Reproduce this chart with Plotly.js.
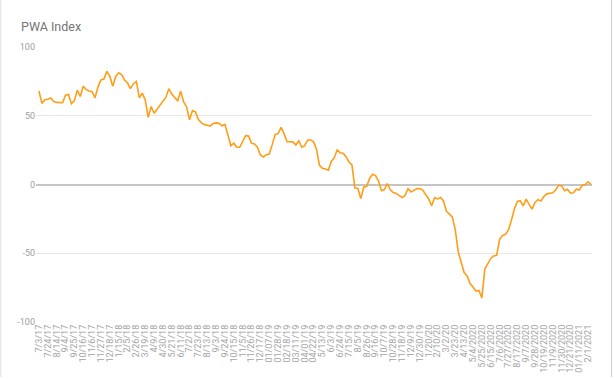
<!DOCTYPE html>
<html>
<head>
<meta charset="utf-8">
<script src="https://cdn.plot.ly/plotly-3.0.1.min.js"></script>
<style>html,body{margin:0;padding:0;background:#fff;}#chart{width:614px;height:379px;}</style>
</head>
<body>
<div id="chart"></div>
<script>
// Weekly observation dates (category axis)
const weeks = [
"2017-07-03","2017-07-10","2017-07-17","2017-07-24","2017-07-31","2017-08-07","2017-08-14","2017-08-21","2017-08-28","2017-09-04",
"2017-09-11","2017-09-18","2017-09-25","2017-10-02","2017-10-09","2017-10-16","2017-10-23","2017-10-30","2017-11-06","2017-11-13",
"2017-11-20","2017-11-27","2017-12-04","2017-12-11","2017-12-18","2017-12-25","2018-01-08","2018-01-15","2018-01-22","2018-01-29",
"2018-02-05","2018-02-12","2018-02-19","2018-02-26","2018-03-05","2018-03-12","2018-03-19","2018-03-26","2018-04-02","2018-04-09",
"2018-04-16","2018-04-23","2018-04-30","2018-05-07","2018-05-14","2018-05-21","2018-05-28","2018-06-04","2018-06-11","2018-06-18",
"2018-06-25","2018-07-02","2018-07-09","2018-07-16","2018-07-23","2018-07-30","2018-08-06","2018-08-13","2018-08-20","2018-08-27",
"2018-09-03","2018-09-10","2018-09-17","2018-09-24","2018-10-01","2018-10-08","2018-10-15","2018-10-22","2018-10-29","2018-11-05",
"2018-11-12","2018-11-19","2018-11-26","2018-12-03","2018-12-10","2018-12-17","2018-12-24","2018-12-31","2019-01-07","2019-01-14",
"2019-01-21","2019-01-28","2019-02-04","2019-02-11","2019-02-18","2019-02-25","2019-03-04","2019-03-11","2019-03-18","2019-03-25",
"2019-04-01","2019-04-08","2019-04-15","2019-04-22","2019-04-29","2019-05-06","2019-05-13","2019-05-20","2019-05-27","2019-06-03",
"2019-06-10","2019-06-17","2019-06-24","2019-07-01","2019-07-08","2019-07-15","2019-07-22","2019-07-29","2019-08-05","2019-08-12",
"2019-08-19","2019-08-26","2019-09-02","2019-09-09","2019-09-16","2019-09-23","2019-09-30","2019-10-07","2019-10-14","2019-10-21",
"2019-10-28","2019-11-04","2019-11-11","2019-11-18","2019-11-25","2019-12-02","2019-12-09","2019-12-16","2019-12-23","2019-12-30",
"2020-01-06","2020-01-13","2020-01-20","2020-01-27","2020-02-03","2020-02-10","2020-02-17","2020-02-24","2020-03-02","2020-03-09",
"2020-03-16","2020-03-23","2020-03-30","2020-04-06","2020-04-13","2020-04-20","2020-04-27","2020-05-04","2020-05-11","2020-05-18",
"2020-05-25","2020-06-01","2020-06-08","2020-06-15","2020-06-22","2020-06-29","2020-07-06","2020-07-13","2020-07-20","2020-07-27",
"2020-08-03","2020-08-10","2020-08-17","2020-08-24","2020-08-31","2020-09-07","2020-09-14","2020-09-21","2020-09-28","2020-10-05",
"2020-10-12","2020-10-19","2020-10-26","2020-11-02","2020-11-09","2020-11-16","2020-11-23","2020-11-30","2020-12-07","2020-12-14",
"2020-12-21","2020-12-28","2021-01-04","2021-01-11","2021-01-18","2021-01-25","2021-02-01","2021-02-08"
];

// PWA Index values
const pwaIndex = [
68,59,61.6,62,63,60.4,59.7,59.5,59.5,65,
65.5,58.7,61,68.5,64,71.4,69,68,67.5,63,
71,76,76.7,82.3,78.6,71.4,78.6,81.3,80,76,
73.8,69.7,73.3,75,63,66.5,61.5,48.8,56.7,51.8,
54.5,57.3,60.3,63.5,69.7,65.8,63.2,61,67.8,60,
56.4,47,53.8,52.8,47.2,45,43.6,42.8,42.5,44.3,
44.8,44.5,42.7,43.7,36.5,28.2,30,27.1,27.1,30.8,
35.5,35.2,30,29.5,27.1,21.5,20,21.7,22.2,29,
36.5,37,41.5,37,31.1,31.1,31,28.8,31.8,27.1,
28.3,32.4,32.4,31,25.5,14,11.8,11.2,10.4,16.8,
19.3,25.2,23.1,22.7,20.2,16.4,14.2,-2.5,-2.7,-10.2,
-2,-1.3,4.6,7.5,6.5,2.5,-4.5,-3.7,0.6,-3.8,
-5.9,-6.5,-8,-9.5,-8,-3,-5.5,-4.5,-3,-3,
-4,-7.5,-10.5,-15.5,-9.5,-10.5,-9.5,-12,-19.5,-21.5,
-23.5,-33,-49,-56.5,-64,-66.5,-72,-74.5,-77.5,-77,
-82.5,-61.5,-58,-53.8,-52,-51.5,-40,-37,-36.3,-33,
-26,-18,-12.3,-11.8,-15.5,-10.6,-14.5,-17.9,-13,-11,
-12,-8.7,-6.8,-6.3,-6,-4,-0.5,-1,-4.5,-3.5,
-6.3,-6,-3.4,-4,-0.5,-0.2,2,0
];

// Dates that carry a tick label, and the label text shown for each
const tickDates = [
"2017-07-03","2017-07-24","2017-08-14","2017-09-04","2017-09-25","2017-10-16","2017-11-06","2017-11-27","2017-12-18","2018-01-15",
"2018-02-05","2018-02-26","2018-03-19","2018-04-09","2018-04-30","2018-05-21","2018-06-11","2018-07-02","2018-07-23","2018-08-13",
"2018-09-03","2018-09-24","2018-10-15","2018-11-05","2018-11-26","2018-12-17","2019-01-07","2019-01-28","2019-02-18","2019-03-11",
"2019-04-01","2019-04-22","2019-05-13","2019-06-03","2019-06-24","2019-07-15","2019-08-05","2019-08-26","2019-09-16","2019-10-07",
"2019-10-28","2019-11-18","2019-12-09","2019-12-30","2020-01-20","2020-02-10","2020-03-02","2020-03-23","2020-04-13","2020-05-04",
"2020-05-25","2020-06-15","2020-07-06","2020-07-27","2020-08-17","2020-09-07","2020-09-28","2020-10-19","2020-11-09","2020-11-30",
"2020-12-21","2021-01-11","2021-02-01"
];
const tickLabels = [
"7/3/17","7/24/17","8/14/17","9/4/17","9/25/17","10/16/17","11/6/17","11/27/17","12/18/17","1/15/18",
"2/5/18","2/26/18","3/19/18","4/9/18","4/30/18","5/21/18","6/11/18","7/2/18","7/23/18","8/13/18",
"9/3/18","9/24/18","10/15/18","11/5/18","11/26/18","12/17/18","01/07/19","01/28/19","02/18/19","03/11/19",
"04/01/19","04/22/19","5/13/19","6/3/19","6/24/19","7/15/19","8/5/19","8/26/19","9/16/19","10/7/19",
"10/28/19","11/18/19","12/9/19","12/30/19","1/20/20","2/10/20","3/2/20","3/23/20","4/13/20","5/4/2020",
"5/25/2020","6/15/2020","7/6/2020","7/27/2020","8/17/2020","9/7/2020","9/28/2020","10/19/2020","11/9/2020","11/30/2020",
"12/21/2020","01/11/2021","2/1/2021"
];
const yTicks = [-100, -50, 0, 50, 100];

const trace = {
  x: weeks,
  y: pwaIndex,
  type: 'scatter',
  mode: 'lines',
  line: {color: '#FF9E16', width: 1.6},
  hoverinfo: 'x+y'
};

const layout = {
  width: 614,
  height: 379,
  margin: {l: 36, r: 22, t: 47, b: 57, pad: 0},
  paper_bgcolor: '#ffffff',
  plot_bgcolor: '#ffffff',
  font: {family: 'Roboto, "Open Sans", sans-serif', color: '#9e9e9e', size: 9},
  title: {
    text: 'PWA Index',
    font: {family: 'Roboto, sans-serif', size: 12.5, color: '#757575'},
    x: 0, xref: 'paper', xanchor: 'left',
    y: 1, yref: 'container', yanchor: 'top',
    pad: {t: 22, l: -15}
  },
  showlegend: false,
  xaxis: {
    type: 'category',
    range: [-1.0, 187.3],
    tickmode: 'array',
    tickvals: tickDates,
    ticktext: tickLabels,
    tickangle: -90,
    tickfont: {size: 9, color: '#a3a3a3'},
    showgrid: false,
    zeroline: false,
    showline: false,
    ticks: ''
  },
  yaxis: {
    range: [-100, 100],
    tickmode: 'array',
    tickvals: yTicks,
    ticktext: yTicks.map(String),
    tickfont: {size: 9, color: '#9e9e9e'},
    showgrid: true,
    gridcolor: '#e6e6e6',
    gridwidth: 1,
    zeroline: true,
    zerolinecolor: '#c4c4c4',
    zerolinewidth: 2,
    showline: false,
    ticks: '',
    fixedrange: true
  },
  shapes: [
    {type: 'line', xref: 'paper', yref: 'paper', x0: -0.0634, x1: -0.0634, y0: -0.2, y1: 1.2,
     line: {color: '#e0e0e0', width: 1}},
    {type: 'line', xref: 'paper', yref: 'paper', x0: 1.0351, x1: 1.0351, y0: -0.2, y1: 1.2,
     line: {color: '#cfcfcf', width: 1}}
  ]
};

Plotly.newPlot('chart', [trace], layout, {displayModeBar: false, staticPlot: true});
</script>
</body>
</html>
